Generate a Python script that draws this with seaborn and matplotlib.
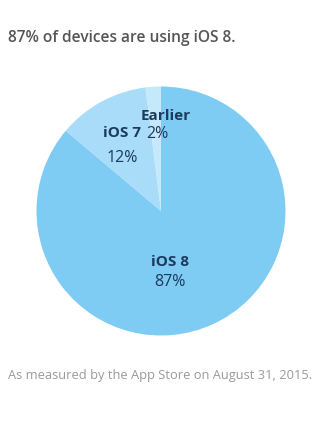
import matplotlib
matplotlib.use("Agg")
import matplotlib.pyplot as plt
import seaborn as sns

versions = ["iOS 8", "iOS 7", "Earlier"]
shares = [87, 12, 2]
share_labels = ["87%", "12%", "2%"]
colors = ["#7ecbf4", "#a8dcf8", "#c6e8fb"]

sns.set_theme(style="white")
plt.rcParams["font.family"] = ["Open Sans", "DejaVu Sans"]

W, H = 321, 421
fig = plt.figure(figsize=(W / 100, H / 100), dpi=100)
fig.patch.set_facecolor("white")

cx, cy, r = 161, 211, 124.5
ax = fig.add_axes([(cx - r) / W, 1 - (cy + r) / H, 2 * r / W, 2 * r / H])
ax.pie(shares, colors=colors, startangle=90, counterclock=False,
       wedgeprops=dict(linewidth=0))
ax.set_xlim(-1, 1)
ax.set_ylim(-1, 1)
ax.set_aspect("equal")
ax.axis("off")

def px(x, y):
    return x / W, 1 - y / H

navy = "#1b3a5c"
pos = {
    "iOS 8": ((170, 262), (170, 282)),
    "iOS 7": ((122, 133), (122, 158)),
    "Earlier": ((166, 116), (157, 134)),
}
for name, val in zip(versions, share_labels):
    (nx, ny), (vx, vy) = pos[name]
    fig.text(*px(nx, ny), name, ha="center", va="center", fontsize=11,
             fontweight="bold", color=navy)
    fig.text(*px(vx, vy), val, ha="center", va="center", fontsize=11.5,
             color=navy)

fig.text(*px(8, 38), "87% of devices are using iOS 8.", ha="left",
         va="center", fontsize=11.2, color="#555555", fontweight="semibold")
fig.text(*px(8, 375), "As measured by the App Store on August 31, 2015.",
         ha="left", va="center", fontsize=9.3, color="#9a9a9a")

fig.savefig("out.png", dpi=100, facecolor="white")
